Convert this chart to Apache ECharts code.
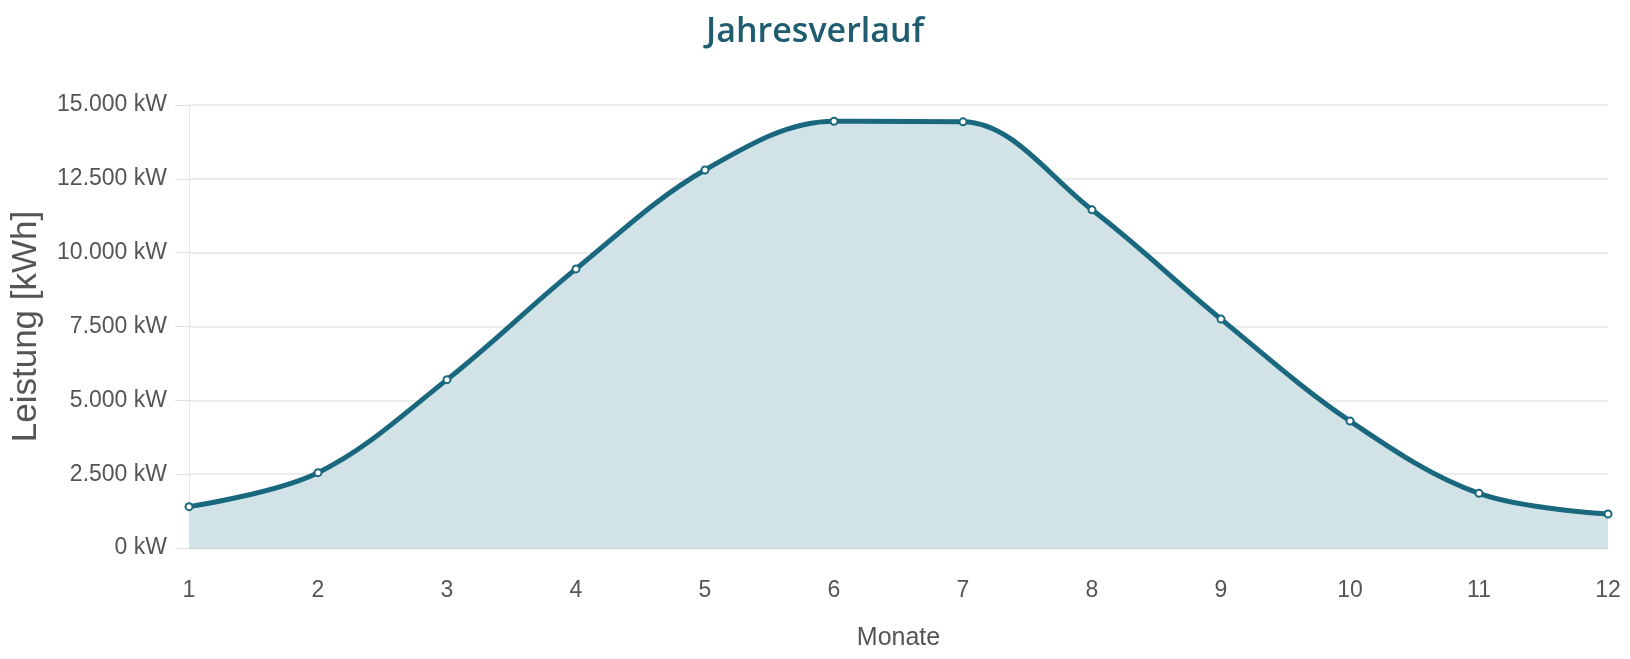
<!DOCTYPE html>
<html>
<head>
<meta charset="utf-8">
<script src="https://cdn.jsdelivr.net/npm/echarts@6/dist/echarts.min.js"></script>
<style>
html,body{margin:0;padding:0;background:#fff;}
#chart{width:1630px;height:659px;}
</style>
</head>
<body>
<div id="chart"></div>
<script>
const months = ['1','2','3','4','5','6','7','8','9','10','11','12'];
const leistung = [1400, 2550, 5700, 9450, 12800, 14450, 14430, 11450, 7750, 4300, 1850, 1150];
const yTicks = [0, 2500, 5000, 7500, 10000, 12500, 15000];

function fmt(v){
  return String(v).replace(/\B(?=(\d{3})+(?!\d))/g, '.') + ' kW';
}

const chart = echarts.init(document.getElementById('chart'));
chart.setOption({
  animation: false,
  title: {
    text: 'Jahresverlauf',
    left: 'center',
    top: 10,
    textStyle: { fontFamily: 'Open Sans', fontSize: 34, fontWeight: 600, color: '#1f5c6f' }
  },
  grid: { left: 189, right: 22, top: 105, bottom: 111, containLabel: false, outerBoundsMode: 'none' },
  xAxis: {
    type: 'category',
    data: months,
    boundaryGap: false,
    name: 'Monate',
    nameLocation: 'middle',
    nameGap: 78,
    nameTextStyle: { fontFamily: 'Liberation Sans', fontSize: 25, color: '#555' },
    axisLine: { show: true, lineStyle: { color: '#cfcfcf', width: 1 } },
    axisTick: { show: false },
    axisLabel: { margin: 31, fontFamily: 'Liberation Sans', fontSize: 23, color: '#555' },
    splitLine: { show: false }
  },
  yAxis: {
    type: 'value',
    min: yTicks[0],
    max: yTicks[yTicks.length - 1],
    interval: 2500,
    name: 'Leistung [kWh]',
    nameLocation: 'middle',
    nameGap: 145,
    nameTextStyle: { fontFamily: 'Liberation Sans', fontSize: 35, color: '#555' },
    axisLine: { show: true, lineStyle: { color: '#e4e4e4', width: 1 } },
    axisTick: { show: true, length: 14, lineStyle: { color: '#e0e0e0' } },
    axisLabel: { margin: 22, fontFamily: 'Liberation Sans', fontSize: 23, color: '#555', formatter: fmt },
    splitLine: { show: true, lineStyle: { color: '#e6e6e6', width: 1.5 } }
  },
  series: [{
    type: 'line',
    data: leistung,
    smooth: 0.35,
    symbol: 'emptyCircle',
    symbolSize: 7,
    showAllSymbol: true,
    lineStyle: { color: '#19687d', width: 5 },
    itemStyle: { color: '#19687d', borderWidth: 2 },
    areaStyle: { color: '#d2e3e8', opacity: 1 }
  }]
});
</script>
</body>
</html>
